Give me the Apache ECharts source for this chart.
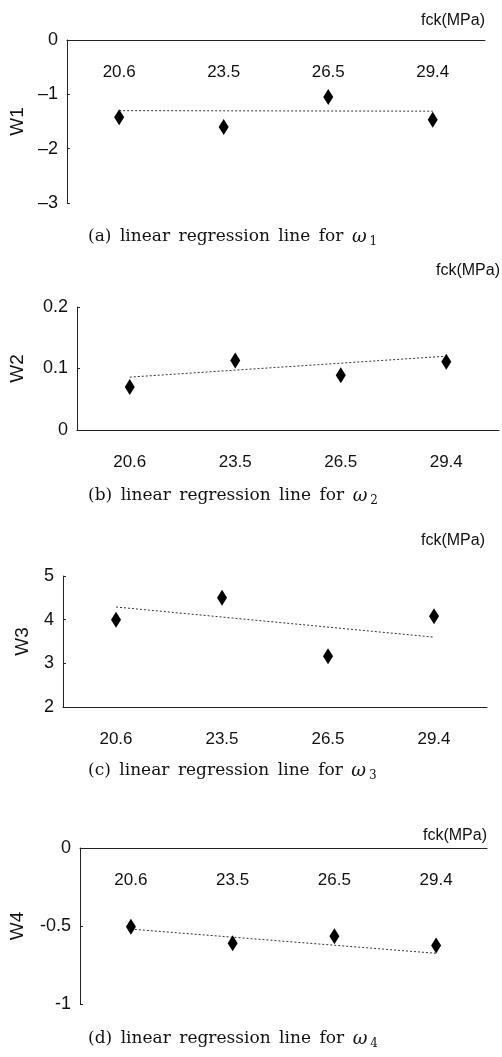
<!DOCTYPE html>
<html>
<head>
<meta charset="utf-8">
<script src="https://cdn.jsdelivr.net/npm/echarts@6/dist/echarts.min.js"></script>
<style>
  html, body { margin: 0; padding: 0; background: #fff; }
  #main { width: 502px; height: 1057px; }
</style>
</head>
<body>
<div id="main"></div>
<script>
// 数据
var fck = ['20.6', '23.5', '26.5', '29.4'];
var w1 = [-1.42, -1.60, -1.05, -1.47];
var w1Fit = [-1.30, -1.31];
var w2 = [0.07, 0.113, 0.089, 0.111];
var w2Fit = [0.086, 0.12];
var w3 = [4.0, 4.5, 3.16, 4.08];
var w3Fit = [4.29, 3.60];
var w4 = [-0.505, -0.61, -0.565, -0.625];
var w4Fit = [-0.52, -0.675];

var names = ['W1', 'W2', 'W3', 'W4'];
var captions = ['a', 'b', 'c', 'd'];

var myChart = echarts.init(document.getElementById('main'));

var narrow = '"Liberation Sans Narrow", "Liberation Sans", Arial, sans-serif';
var sans = '"Liberation Sans", Arial, sans-serif';
var serif = '"DejaVu Serif", "Liberation Serif", serif';

var grids = [
    { left: 63, top: 40, width: 422, height: 163 },
    { left: 68, top: 307, width: 431, height: 123 },
    { left: 63, top: 576, width: 424, height: 131 },
    { left: 71, top: 848, width: 416, height: 156 }
];

function xAxisOf(i, pos) {
    return {
        type: 'category',
        gridIndex: i,
        data: fck,
        position: pos,
        axisLine: { onZero: false, lineStyle: { color: '#222', width: 1 } },
        axisTick: { inside: true, length: 4, lineStyle: { color: '#222' } },
        axisLabel: {
            inside: pos === 'top',
            margin: 24,
            fontSize: 17,
            fontFamily: narrow,
            color: '#111'
        },
        splitLine: { show: false }
    };
}

function yAxisOf(i, min, max, interval, gap, fmt) {
    return {
        type: 'value',
        gridIndex: i,
        min: min,
        max: max,
        interval: interval,
        name: names[i],
        nameLocation: 'middle',
        nameGap: gap,
        nameTextStyle: { fontSize: 19, fontFamily: sans, color: '#111' },
        axisLine: { show: true, lineStyle: { color: '#222', width: 1 } },
        axisTick: { show: true, inside: true, length: 3, lineStyle: { color: '#222' } },
        axisLabel: { fontSize: 18, fontFamily: sans, color: '#111', margin: 9, formatter: fmt },
        splitLine: { show: false }
    };
}

function dash(v) {
    return String(v).replace('-', '\u2013');
}

function pts(vals) {
    return vals.map(function (v, k) { return [fck[k], v]; });
}

function scatterOf(i, vals) {
    return {
        type: 'scatter',
        xAxisIndex: i,
        yAxisIndex: i,
        symbol: 'diamond',
        symbolSize: [10, 16],
        itemStyle: { color: '#000', opacity: 1 },
        data: pts(vals),
        z: 3
    };
}

function fitOf(i, fit) {
    return {
        type: 'line',
        xAxisIndex: i,
        yAxisIndex: i,
        symbol: 'none',
        lineStyle: { color: '#333', width: 1, type: [2, 2] },
        data: [[fck[0], fit[0]], [fck[3], fit[1]]],
        z: 2
    };
}

var fckTop = [13, 263, 533, 828];
var fckRight = [17, 2, 17, 15];
var capTop = [226, 485, 760, 1028];

var titles = [];
for (var i = 0; i < 4; i++) {
    titles.push({
        text: 'fck(MPa)',
        right: fckRight[i],
        top: fckTop[i],
        padding: 0,
        textStyle: { fontSize: 16, fontWeight: 'normal', fontFamily: narrow, color: '#111' }
    });
    titles.push({
        text: '{t|(' + captions[i] + ')\u2002linear\u2002regression\u2002line\u2002for\u2002}{w|\u03c9}{s|' + (i + 1) + '}',
        left: 88,
        top: capTop[i],
        padding: 0,
        textStyle: {
            fontWeight: 'normal',
            rich: {
                t: { fontSize: 17, fontWeight: 'normal', fontFamily: serif, color: '#111', lineHeight: 22 },
                w: { fontSize: 18, fontWeight: 'normal', fontFamily: serif, fontStyle: 'italic', color: '#111', lineHeight: 22 },
                s: { fontSize: 12, fontWeight: 'normal', fontFamily: serif, color: '#111', verticalAlign: 'bottom', lineHeight: 22, padding: [0, 0, 0, 3] }
            }
        }
    });
}

option = {
    animation: false,
    backgroundColor: '#fff',
    title: titles,
    grid: grids,
    xAxis: [
        xAxisOf(0, 'top'),
        xAxisOf(1, 'bottom'),
        xAxisOf(2, 'bottom'),
        xAxisOf(3, 'top')
    ],
    yAxis: [
        yAxisOf(0, -3, 0, 1, 39, dash),
        yAxisOf(1, 0, 0.2, 0.1, 50),
        yAxisOf(2, 2, 5, 1, 31),
        yAxisOf(3, -1, 0, 0.5, 53)
    ],
    series: [
        scatterOf(0, w1), fitOf(0, w1Fit),
        scatterOf(1, w2), fitOf(1, w2Fit),
        scatterOf(2, w3), fitOf(2, w3Fit),
        scatterOf(3, w4), fitOf(3, w4Fit)
    ]
};

if (option && typeof option === "object") {
    myChart.setOption(option, true);
}
</script>
</body>
</html>
